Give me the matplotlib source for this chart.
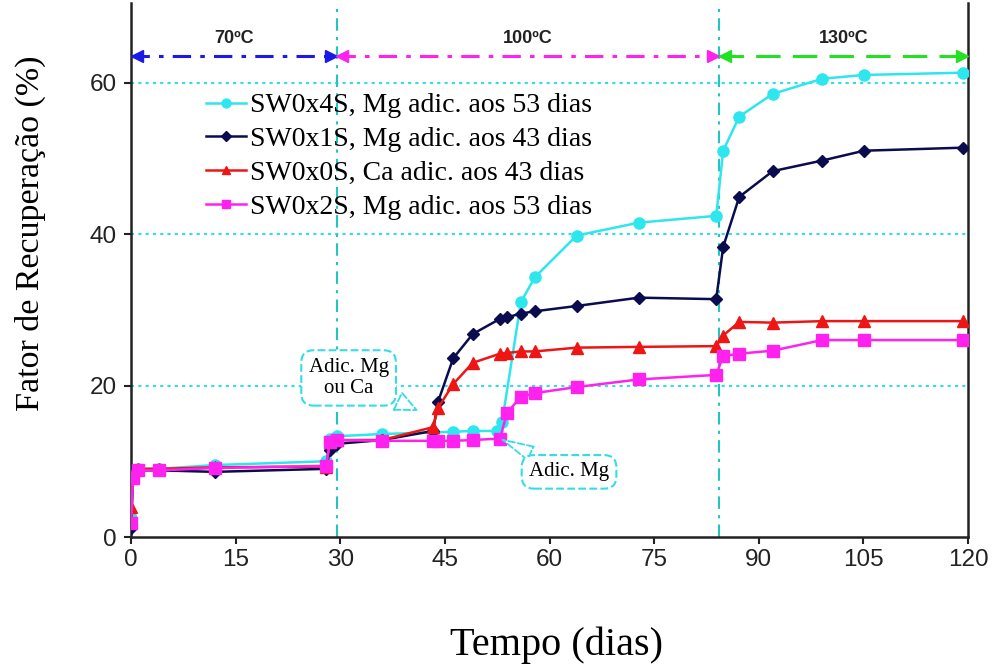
import matplotlib
matplotlib.use("Agg")
import matplotlib.pyplot as plt

# ---------------- data ----------------
days = [0, 0.3, 1, 4, 12, 28, 28.5, 29.5, 36, 43.3, 44, 46.2, 49, 52.9, 53.9,
        55.9, 57.9, 63.9, 72.8, 83.9, 84.9, 87.2, 92, 99.1, 105.1, 119.3]

days_x4 = [0, 0.3, 1, 4, 12, 28, 28.5, 29.5, 36, 43.3, 46.2, 49, 52.5, 53.2,
           55.9, 57.9, 63.9, 72.8, 83.9, 84.9, 87.2, 92, 99.1, 105.1, 119.3]
sw0x4s = [2.5, 8.0, 9.0, 9.0, 9.5, 10.0, 13.0, 13.3, 13.6, 13.8, 13.9, 14.0, 14.0, 15.2,
          31.0, 34.3, 39.8, 41.5, 42.4, 51.0, 55.5, 58.5, 60.5, 61.0, 61.3]

sw0x1s = [1.2, 8.0, 8.8, 8.8, 8.6, 9.0, 11.5, 12.3, 12.8, 14.0, 17.8, 23.6, 26.8, 28.8, 29.0,
          29.5, 29.8, 30.5, 31.6, 31.4, 38.3, 44.9, 48.3, 49.7, 51.0, 51.4]

sw0x0s = [3.9, 8.2, 9.0, 9.0, 9.2, 9.3, 12.6, 12.8, 12.8, 14.5, 17.0, 20.2, 23.0, 24.2, 24.3,
          24.5, 24.5, 25.0, 25.1, 25.2, 26.6, 28.4, 28.3, 28.5, 28.5, 28.5]

sw0x2s = [1.8, 7.8, 8.8, 8.8, 9.1, 9.4, 12.6, 12.8, 12.7, 12.7, 12.7, 12.7, 12.8, 13.0, 16.4,
          18.5, 19.0, 19.8, 20.8, 21.4, 23.9, 24.2, 24.6, 26.0, 26.0, 26.0]

labels = ["SW0x4S, Mg adic. aos 53 dias",
          "SW0x1S, Mg adic. aos 43 dias",
          "SW0x0S, Ca adic. aos 43 dias",
          "SW0x2S, Mg adic. aos 53 dias"]

phase_bounds = [0, 29.5, 84.3, 120]
phase_labels = ["70ºC", "100ºC", "130ºC"]
phase_y = 63.5

x_ticks = [0, 15, 30, 45, 60, 75, 90, 105, 120]
y_ticks = [0, 20, 40, 60]

# ---------------- styles ----------------
c_cyan = "#2ee6ee"
c_navy = "#0b0b4f"
c_red = "#ee1515"
c_mag = "#ff22ee"
c_grid = "#33dde8"
c_vline = "#22c4c4"
serif = ["Liberation Serif", "DejaVu Serif"]
sans = ["Liberation Sans", "DejaVu Sans"]

fig = plt.figure(figsize=(9.98, 6.68), dpi=100)
ax = fig.add_axes([131 / 998, 131 / 668, (968 - 131) / 998, (668 - 131 - 3) / 668])

ax.set_xlim(0, 120)
ax.set_ylim(0, 70.5)

# grid lines
for yv in y_ticks[1:]:
    ax.axhline(yv, color=c_grid, ls=(0, (1.5, 2.0)), lw=1.5, zorder=1)
for xv in phase_bounds[1:3]:
    ax.axvline(xv, color=c_vline, ls=(0, (6, 3, 1.5, 3)), lw=1.5, zorder=1)

# temperature arrows
phase_colors = ["#1a1ae8", c_mag, "#22e022"]
phase_ls = [(0, (6, 3, 1.5, 3)), (0, (6, 3, 1.5, 3)), (0, (8, 4))]
for i in range(3):
    x0, x1 = phase_bounds[i], phase_bounds[i + 1]
    ax.plot([x0, x1], [phase_y, phase_y], color=phase_colors[i], ls=phase_ls[i], lw=2.2,
            clip_on=False, zorder=3)
    ax.plot([x0 + 0.8], [phase_y], marker="<", color=phase_colors[i], ms=8, clip_on=False, zorder=3)
    ax.plot([x1 - 0.8], [phase_y], marker=">", color=phase_colors[i], ms=8, clip_on=False, zorder=3)
    ax.text((x0 + x1) / 2, phase_y + 2.3, phase_labels[i], ha="center", va="center",
            fontsize=13, family=sans, fontweight="bold", color="#222222")

# data
ax.plot(days_x4, sw0x4s, color=c_cyan, marker="o", ms=8, lw=1.8, label=labels[0], zorder=5)
ax.plot(days, sw0x1s, color=c_navy, marker="D", ms=6.5, lw=1.8, label=labels[1], zorder=6)
ax.plot(days, sw0x0s, color=c_red, marker="^", ms=8, lw=1.8, label=labels[2], zorder=7)
ax.plot(days, sw0x2s, color=c_mag, marker="s", ms=8, lw=1.8, label=labels[3], zorder=8)

# annotations
ann_kw = dict(fontsize=15, family=serif, ha="center", va="center", zorder=10,
              bbox=dict(boxstyle="round,pad=0.35,rounding_size=0.6", fc="white",
                        ec=c_grid, ls="--", lw=1.5))
ax.annotate("Adic. Mg\nou Ca", xy=(41.3, 16.6), xytext=(31.2, 21.0),
            arrowprops=dict(arrowstyle="wedge,tail_width=0.9,shrink_factor=0.5", fc="white",
                            ec=c_grid, ls="--", lw=1.3), **ann_kw)
ax.annotate("Adic. Mg", xy=(52.9, 13.0), xytext=(62.8, 8.6),
            arrowprops=dict(arrowstyle="wedge,tail_width=0.7,shrink_factor=0.5", fc="white",
                            ec=c_grid, ls="--", lw=1.3), **ann_kw)

# axes styling
ax.spines["top"].set_visible(False)
for s in ["left", "bottom", "right"]:
    ax.spines[s].set_linewidth(1.8)
    ax.spines[s].set_color("#222222")
ax.set_xticks(x_ticks)
ax.set_yticks(y_ticks)
ax.tick_params(direction="out", length=5, width=1.5, labelsize=17.5, colors="#222222")
ax.tick_params(axis="y", pad=5)
ax.tick_params(axis="x", pad=4)
for lab in ax.get_xticklabels() + ax.get_yticklabels():
    lab.set_family(sans)

ax.set_xlabel("Tempo (dias)", fontsize=29, family=serif)
ax.set_ylabel("Fator de Recuperação (%)", fontsize=24.5, family=serif)
ax.xaxis.set_label_coords((557 - 131) / (968 - 131), -(645 - 537) / 534)
ax.yaxis.set_label_coords(-(131 - 30) / (968 - 131), (537 - 233) / 534)
ax.xaxis.label.set_va("center")
ax.yaxis.label.set_va("center")

leg = ax.legend(loc="upper left", bbox_to_anchor=(192 / 998, 1 - 79 / 668),
                bbox_transform=fig.transFigure, frameon=False,
                prop=dict(family=serif, size=20), handlelength=1.45, handletextpad=0.12,
                labelspacing=0.3, borderpad=0.0, markerscale=0.8)

fig.savefig("out.png", dpi=100)
